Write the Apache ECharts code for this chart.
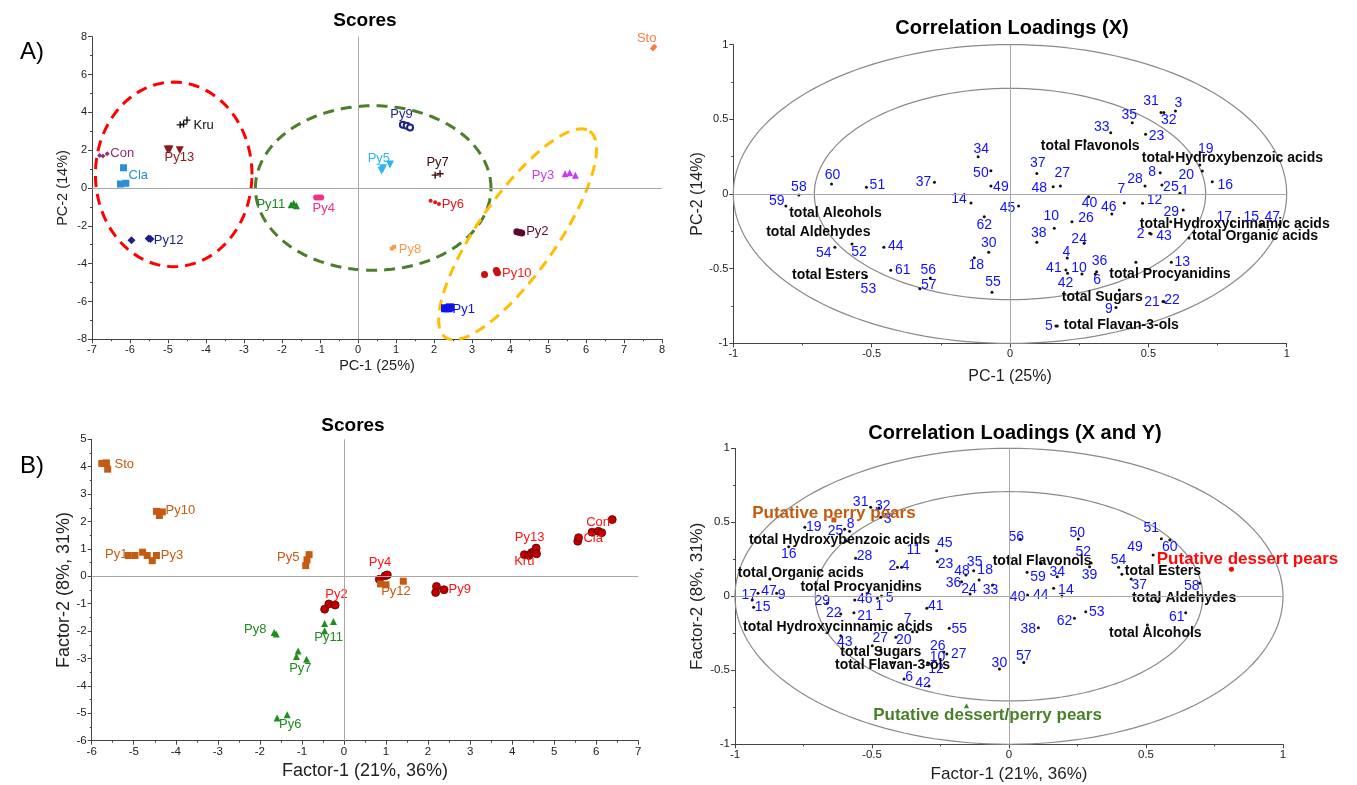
<!DOCTYPE html>
<html>
<head>
<meta charset="utf-8">
<script src="https://cdn.jsdelivr.net/npm/echarts@6/dist/echarts.min.js"></script>
<style>
  html, body { margin: 0; padding: 0; background: #fff; }
  #main { width: 1357px; height: 785px; }
</style>
</head>
<body>
<div id="main"></div>
<script>
// ---- A) PCA scores (3 replicates per sample) ----
const scoresA_names = ['Con','Cla','Kru','Py13','Py12','Py11','Py4','Sto','Py9','Py5','Py7','Py3','Py6','Py2','Py8','Py10','Py1'];
const scoresA_x = [
  [-6.8,-6.71,-6.6], [-6.17,-6.25,-6.11], [-4.68,-4.59,-4.5], [-5.01,-4.96,-4.69],
  [-5.96,-5.51,-5.46], [-1.76,-1.69,-1.62], [-1.1,-1.03,-0.97], [7.76,7.8],
  [1.18,1.28,1.37], [0.62,0.66,0.84], [2.03,2.16], [5.45,5.57,5.72],
  [1.91,2.03,2.13], [4.18,4.25,4.31], [0.89,0.95], [3.33,3.64,3.67], [2.29,2.38,2.42]
];
const scoresA_y = [
  [1.72,1.69,1.81], [1.07,0.21,0.25], [3.34,3.38,3.59], [2.04,2.04,2.0],
  [-2.76,-2.67,-2.7], [-0.89,-0.8,-0.94], [-0.5,-0.5,-0.5], [7.38,7.47],
  [3.34,3.29,3.2], [0.92,1.05,1.24], [0.68,0.75], [0.75,0.8,0.68],
  [-0.68,-0.76,-0.84], [-2.31,-2.35,-2.38], [-3.2,-3.11], [-4.57,-4.36,-4.48], [-6.36,-6.36,-6.31]
];

// ---- A) correlation loadings (X) ----
const loadA_names = ['3','31','32','35','33','23','total Flavonols','19','20','total Hydroxybenzoic acids',
  '8','28','25','1','16','7','12','46','40','29','total Hydroxycinnamic acids','total Organic acids',
  '17','15','47','2','43','10','26','38','24','4','41','10','42','36','6','total Procyanidins','13',
  'total Sugars','21','22','9','5','total Flavan-3-ols','37','27','48','45','34','50','49','14','62',
  '30','18','55','37','51','60','58','59','total Alcohols','total Aldehydes','total Esters','54','52',
  '44','61','56','57','53'];
const loadA_x = [0.598,0.546,0.556,0.442,0.364,0.49,0.272,0.686,0.695,0.587,
  0.543,0.488,0.549,0.614,0.731,0.413,0.479,0.368,0.284,0.626,0.581,0.647,
  0.8,0.908,0.973,0.505,0.51,0.16,0.224,0.097,0.268,0.207,0.202,0.26,0.208,0.313,0.308,0.455,0.583,
  0.395,0.553,0.557,0.383,0.166,0.171,0.097,0.182,0.156,0.031,-0.115,-0.069,-0.069,-0.141,-0.093,
  -0.077,-0.129,-0.065,-0.273,-0.519,-0.645,-0.763,-0.81,-0.609,-0.7,-0.661,-0.633,-0.571,
  -0.456,-0.431,-0.288,-0.326,-0.519];
const loadA_y = [0.555,0.546,0.546,0.477,0.41,0.40,0.355,0.194,0.154,0.247,
  0.142,0.054,0.06,0.005,0.082,-0.06,-0.062,-0.134,-0.018,-0.107,-0.185,-0.294,
  -0.207,-0.207,-0.207,-0.263,-0.268,-0.23,-0.185,-0.323,-0.33,-0.428,-0.508,-0.535,-0.53,-0.52,-0.535,-0.457,-0.457,
  -0.642,-0.72,-0.722,-0.76,-0.883,-0.883,0.138,0.054,0.049,-0.08,0.25,0.156,0.054,-0.06,-0.152,
  -0.39,-0.426,-0.658,0.078,0.045,0.067,-0.007,-0.08,-0.114,-0.275,-0.502,-0.357,-0.335,
  -0.357,-0.511,-0.5625,-0.634,-0.554];

// ---- B) PLS scores ----
const scoresB_names = ['Sto','Py10','Py1','Py3','Py5','Py2','Py8','Py11','Py7','Py6','Py4','Py12','Py9','Kru','Py13','Cla','Con'];
const scoresB_group = ['perry','perry','perry','perry','perry','dessert','both','both','both','both','dessert','perry','dessert','dessert','dessert','dessert','dessert'];
const scoresB_x = [
  [-5.76,-5.65,-5.62], [-4.46,-4.39,-4.32], [-5.13,-4.97,-4.79], [-4.68,-4.56,-4.46],
  [-0.91,-0.88,-0.83], [-0.46,-0.36,-0.21], [-1.66,-1.61], [-0.46,-0.46,-0.25],
  [-1.09,-1.13,-0.89], [-1.59,-1.35], [0.84,0.98,1.03], [0.87,1.0,1.41],
  [2.2,2.18,2.38], [4.29,4.4,4.46], [4.52,4.57,4.58], [5.56,5.58], [5.9,6.05,6.13,6.38]
];
const scoresB_y = [
  [4.12,4.14,3.91], [2.37,2.22,2.35], [0.76,0.76,0.88], [0.76,0.57,0.76],
  [0.39,0.6,0.79], [-1.2,-1.01,-1.05], [-2.05,-2.11], [-1.72,-1.99,-1.65],
  [-2.73,-2.93,-3.03], [-5.17,-5.05], [-0.11,0.02,0.05], [-0.28,-0.31,-0.18],
  [-0.37,-0.59,-0.49], [0.79,0.76,0.86], [0.9,1.03,0.82], [1.28,1.41], [1.61,1.64,1.59,2.07]
];

// ---- B) correlation loadings (X and Y) ----
const loadB_names = ['31','32','3','Putative perry pears','19','25','8','16','total Hydroxybenzoic acids',
  '45','11','2','4','28','23','35','48','18','36','24','33','total Organic acids','total Procyanidins',
  '17','47','9','15','29','46','1','5','41','22','21','7','total Hydroxycinnamic acids','55','43','27',
  '20','26','27','10','12','total Sugars','total Flavan-3-ols','6','42','30','Putative dessert/perry pears',
  '56','50','52','total Flavonols','59','34','39','40','44','14','54','49','51','60','total Esters','37',
  '58','Putative dessert pears','total Aldehydes','61','total Alcohols','62','53','38','57'];
const loadB_x = [-0.505,-0.475,-0.468,-0.639,-0.745,-0.60,-0.582,-0.804,-0.593,
  -0.264,-0.34,-0.407,-0.392,-0.56,-0.261,-0.129,-0.157,-0.109,-0.173,-0.142,-0.06,-0.873,-0.383,
  -0.937,-0.916,-0.848,-0.932,-0.663,-0.563,-0.48,-0.465,-0.3,-0.614,-0.566,-0.352,-0.336,-0.218,-0.614,-0.499,
  -0.413,-0.238,-0.227,-0.297,-0.292,-0.468,-0.425,-0.383,-0.292,-0.035,-0.155,
  0.041,0.253,0.3,0.117,0.066,0.176,0.294,0.068,0.163,0.193,0.4,0.526,0.556,0.587,0.412,0.446,
  0.696,0.812,0.544,0.645,0.505,0.239,0.28,0.107,0.054];
const loadB_y = [0.601,0.597,0.534,0.516,0.466,0.453,0.44,0.335,0.373,
  0.308,0.36,0.196,0.196,0.257,0.234,0.173,0.144,0.11,0.099,0.016,0.076,0.117,0.07,
  -0.025,0.02,0.02,-0.074,-0.047,-0.025,-0.014,0.002,-0.081,-0.12,-0.111,-0.239,-0.239,-0.216,-0.266,-0.334,
  -0.277,-0.376,-0.39,-0.449,-0.453,-0.363,-0.448,-0.559,-0.606,-0.491,-0.739,
  0.385,0.387,0.225,0.225,0.162,0.132,0.2,0.009,0.054,0.002,0.196,0.279,0.389,0.38,0.149,0.117,
  0.088,0.182,-0.036,-0.111,-0.194,-0.149,-0.104,-0.212,-0.448];

// label placement (pixel offsets from the point), kept apart from the values
const scoresA_labelOff = [[19,-2],[15,-3],[20,2],[7,8],[25,1],[-23,0],[5,11],[-7,-9],[-5,-12],[-6,-9],
  [0,-12],[-27,1],[18,2],[18,-1],[17,2],[24,1],[16,1]];
const scoresB_labelOff = [[19,-1],[21,-2],[-19,0],[20,-2],[-19,-3],[7,-12],[-20,-4],[1,12],[0,13],[8,8],
  [-4,-14],[6,8],[21,0],[-4,7],[-6,-14],[15,-1],[-3,-7]];
const loadA_labelOff = [[3,-8],[-10,-11],[5,8],[-3,-8],[-9,-6],[11,2],[5,5],[6,-16],[-16,4],[60,1],
  [-8,-1],[-10,-7],[9,2],[5,-2],[13,3],[-3,-14],[12,-3],[-3,-7],[1,6],[-12,2],[64,3],[66,-2],
  [-7,-8],[-10,-8],[-7,-8],[-9,1],[13,2],[-3,-12],[14,-3],[2,-9],[-5,-4],[-1,-6],[-12,-2],[-3,-6],[-2,10],[3,-11],[2,6],[34,12],[11,0],
  [-17,7],[-11,1],[8,-2],[-7,2],[-7,0],[64,-1],[1,-10],[2,-13],[-14,1],[-11,2],[3,-8],[-10,2],[10,1],[-12,-4],[0,8],
  [0,-9],[2,7],[1,-10],[-11,0],[11,-2],[1,-9],[0,-8],[-9,-5],[-6,2],[2,-3],[3,6],[-11,6],[7,8],
  [12,-1],[12,0],[-2,-8],[9,-4],[2,12]];
const loadB_labelOff = [[-10,-5],[4,-2],[7,2],[0,-7],[9,0],[-9,2],[1,-7],[0,7],[-7,-1],
  [8,-8],[-2,7],[-5,-1],[4,-1],[9,-2],[8,2],[1,-9],[-4,-4],[6,-10],[-8,1],[-1,-5],[-2,5],[31,-6],[-43,1],
  [-3,-5],[11,-2],[5,2],[9,0],[-5,-2],[10,-1],[2,8],[8,2],[9,-2],[-7,-1],[11,3],[-5,-13],[-79,-5],[10,1],[4,6],[8,-8],
  [8,3],[-6,-6],[12,0],[10,-6],[7,6],[0,2],[0,3],[5,-2],[-6,-3],[0,-6],[21,10],
  [-4,-2],[-1,-6],[-8,-11],[1,-2],[11,5],[0,-5],[0,8],[-10,2],[-13,7],[4,-6],[0,-7],[-18,-8],[-10,-11],[0,7],[41,-3],[8,6],
  [-8,3],[16,-10],[26,-3],[-9,4],[8,8],[-10,3],[11,0],[-10,1],[0,-6]];

// dashed group outlines on the A scores plot: centre and two conjugate half-axes, in data units
const ellipseA_center = [[-4.85,0.72],[0.4,0],[4.2,-2.45]];
const ellipseA_u = [[2.06,0],[3.1,0],[1.9,5.45]];
const ellipseA_v = [[0,4.88],[0,4.35],[0.84,-1.18]];

const FONT = 'Liberation Sans, Arial, sans-serif';
const chart = echarts.init(document.getElementById('main'));

const plus = 'path://M4,0H6V4H10V6H6V10H4V6H0V4H4Z';
const triDown = 'path://M0,0L10,0L5,9Z';
const styleA = {
  Con:['#8e2f73','diamond',5], Cla:['#2a8fd4','rect',7], Kru:['#111111',plus,7], Py13:['#8b1a1a',triDown,8],
  Py12:['#1f1f8a','diamond',8], Py11:['#1c8a22','triangle',7], Py4:['#f0308a','circle',6], Sto:['#fa7a45','diamond',6],
  Py9:['#1f1f8a','emptyCircle',6], Py5:['#29b6f2',triDown,8], Py7:['#3d0d0d',plus,7], Py3:['#c83cf0','triangle',7],
  Py6:['#e01818','circle',4], Py2:['#5c0b2c','circle',7], Py8:['#fb9b4a','rect',4], Py10:['#c81010','circle',7],
  Py1:['#1010f0','rect',8]
};
const labelColA = { Py10:'#ff1a1a', Py6:'#e01818' };
const groupB = {
  perry:{ color:'#c55a11', label:'#c55a11', symbol:'rect', size:7 },
  dessert:{ color:'#c00000', label:'#ff1414', symbol:'circle', size:8 },
  both:{ color:'#1e8e1e', label:'#228b22', symbol:'triangle', size:7 }
};

function xAxisCfg(gi, min, max, interval, name, nameGap, nameSize, labSize) {
  return {
    gridIndex: gi, type: 'value', min: min, max: max, interval: interval,
    name: name, nameLocation: 'middle', nameGap: nameGap,
    nameTextStyle: { fontSize: nameSize, color: '#222', fontFamily: FONT },
    axisLine: { onZero: false, lineStyle: { color: '#444', width: 1 } },
    axisTick: { show: true, length: 4, lineStyle: { color: '#444' } },
    minorTick: { show: true, splitNumber: 2, length: 2, lineStyle: { color: '#444' } },
    axisLabel: { fontSize: labSize, color: '#222', margin: 5, fontFamily: FONT },
    splitLine: { show: false }
  };
}
function yAxisCfg(gi, min, max, interval, name, nameGap, nameSize, labSize) {
  const a = xAxisCfg(gi, min, max, interval, name, nameGap, nameSize, labSize);
  a.position = 'left';
  return a;
}
const zeroLines = {
  silent: true, symbol: ['none','none'], animation: false,
  lineStyle: { color: '#a8a8a8', width: 1, type: 'solid' }, label: { show: false },
  data: [{ xAxis: 0 }, { yAxis: 0 }]
};

function mean(a) { return a.reduce((s, v) => s + v, 0) / a.length; }

const series = [];

// ellipses on A scores
series.push({
  type: 'custom', xAxisIndex: 0, yAxisIndex: 0, silent: true, clip: false, z: 1,
  data: ellipseA_center.map(c => c.slice()),
  renderItem: function (params, api) {
    const i = params.dataIndex;
    const c = ellipseA_center[i], u = ellipseA_u[i], v = ellipseA_v[i];
    const cols = ['#ff0000', '#4e7d2b', '#ffbe00'];
    const pts = [];
    for (let k = 0; k <= 120; k++) {
      const t = k / 120 * Math.PI * 2;
      pts.push(api.coord([c[0] + Math.cos(t) * u[0] + Math.sin(t) * v[0],
                          c[1] + Math.cos(t) * u[1] + Math.sin(t) * v[1]]));
    }
    return { type: 'polyline', shape: { points: pts },
      style: { stroke: cols[i], lineWidth: 3, lineDash: [11, 7], fill: null } };
  }
});

// correlation circles on both loadings plots (r = 1 and r = sqrt(0.5))
[1, 3].forEach(gi => {
  series.push({
    type: 'custom', xAxisIndex: gi, yAxisIndex: gi, silent: true, clip: false, z: 1,
    data: [[0, 0, 1], [0, 0, Math.SQRT1_2]],
    renderItem: function (params, api) {
      const r = api.value(2);
      const pts = [];
      for (let k = 0; k <= 160; k++) {
        const t = k / 160 * Math.PI * 2;
        pts.push(api.coord([r * Math.cos(t), r * Math.sin(t)]));
      }
      return { type: 'polyline', shape: { points: pts },
        style: { stroke: '#8a8a8a', lineWidth: 1.2, fill: null } };
    }
  });
});

// A scores points
scoresA_names.forEach((n, i) => {
  const st = styleA[n];
  const s = {
    type: 'scatter', xAxisIndex: 0, yAxisIndex: 0, z: 3, silent: true,
    symbol: st[1], symbolSize: st[2],
    itemStyle: st[1] === 'emptyCircle' ? { color: st[0], borderColor: st[0], borderWidth: 1.3, opacity: 1 } : { color: st[0], opacity: 1 },
    data: scoresA_x[i].map((x, k) => [x, scoresA_y[i][k]])
  };
  if (i === 0) s.markLine = zeroLines;
  series.push(s);
});
series.push({
  type: 'scatter', xAxisIndex: 0, yAxisIndex: 0, z: 4, silent: true, symbolSize: 0,
  itemStyle: { opacity: 1 },
  data: scoresA_names.map((n, i) => ({
    name: n, value: [mean(scoresA_x[i]), mean(scoresA_y[i])],
    label: { offset: scoresA_labelOff[i], color: labelColA[n] || styleA[n][0] }
  })),
  label: { show: true, position: 'inside', formatter: '{b}', fontSize: 13, fontFamily: FONT, textBorderWidth: 0, opacity: 1 }
});

// B scores points
scoresB_names.forEach((n, i) => {
  const g = groupB[scoresB_group[i]];
  const s = {
    type: 'scatter', xAxisIndex: 2, yAxisIndex: 2, z: 3, silent: true,
    symbol: g.symbol, symbolSize: g.size,
    itemStyle: scoresB_group[i] === 'dessert'
      ? { color: g.color, borderColor: '#5a0000', borderWidth: 0.8, opacity: 1 }
      : { color: g.color, opacity: 1 },
    data: scoresB_x[i].map((x, k) => [x, scoresB_y[i][k]])
  };
  if (i === 0) s.markLine = zeroLines;
  series.push(s);
});
series.push({
  type: 'scatter', xAxisIndex: 2, yAxisIndex: 2, z: 4, silent: true, symbolSize: 0,
  itemStyle: { opacity: 1 },
  data: scoresB_names.map((n, i) => ({
    name: n, value: [mean(scoresB_x[i]), mean(scoresB_y[i])],
    label: { offset: scoresB_labelOff[i], color: groupB[scoresB_group[i]].label }
  })),
  label: { show: true, position: 'inside', formatter: '{b}', fontSize: 13, fontFamily: FONT, textBorderWidth: 0, opacity: 1 }
});

// loadings
function loadingItems(names, xs, ys, offs) {
  return names.map((n, i) => {
    let dot = '#111', lab = { offset: offs[i], color: '#1010ff', fontSize: 14, fontWeight: 'normal' };
    let sym = 'circle', size = 3;
    if (n.indexOf('total') === 0) {
      lab.color = '#0a0a0a'; lab.fontWeight = 'bold'; lab.fontSize = 14;
    } else if (n.indexOf('Putative') === 0) {
      lab.fontWeight = 'bold'; lab.fontSize = 17; size = 5;
      if (n === 'Putative perry pears') { dot = '#c55a11'; lab.color = '#c55a11'; sym = 'rect'; }
      else if (n === 'Putative dessert pears') { dot = '#ff0000'; lab.color = '#ff0a0a'; }
      else { dot = '#2f8a2f'; lab.color = '#4a7f2a'; sym = 'triangle'; }
    }
    return { name: n, value: [xs[i], ys[i]], symbol: sym, symbolSize: size,
      itemStyle: { color: dot, opacity: 1 }, label: lab };
  });
}
series.push({
  type: 'scatter', xAxisIndex: 1, yAxisIndex: 1, z: 3, silent: true,
  data: loadingItems(loadA_names, loadA_x, loadA_y, loadA_labelOff),
  label: { show: true, position: 'inside', formatter: '{b}', fontFamily: FONT, textBorderWidth: 0 },
  markLine: zeroLines
});
series.push({
  type: 'scatter', xAxisIndex: 3, yAxisIndex: 3, z: 3, silent: true,
  data: loadingItems(loadB_names, loadB_x, loadB_y, loadB_labelOff),
  label: { show: true, position: 'inside', formatter: '{b}', fontFamily: FONT, textBorderWidth: 0 },
  markLine: zeroLines
});

function txt(x, y, text, font) {
  return { type: 'text', x: x, y: y, silent: true,
    style: { text: text, font: font, fill: '#000', textAlign: 'center', textVerticalAlign: 'top', align: 'center', verticalAlign: 'top' } };
}

chart.setOption({
  animation: false,
  backgroundColor: '#fff',
  textStyle: { fontFamily: FONT },
  grid: [
    { left: 92, top: 36.7, width: 570, height: 302.6 },
    { left: 733.3, top: 44.6, width: 553.4, height: 298.8 },
    { left: 91.7, top: 439.3, width: 546.6, height: 301.4 },
    { left: 735, top: 448.3, width: 548, height: 296 }
  ],
  xAxis: [
    xAxisCfg(0, -7, 8, 1, 'PC-1 (25%)', 19, 14.5, 11),
    xAxisCfg(1, -1, 1, 0.5, 'PC-1 (25%)', 25, 16, 11),
    xAxisCfg(2, -6, 7, 1, 'Factor-1 (21%, 36%)', 21, 18, 11.5),
    xAxisCfg(3, -1, 1, 0.5, 'Factor-1 (21%, 36%)', 22, 17, 11.5)
  ],
  yAxis: [
    yAxisCfg(0, -8, 8, 2, 'PC-2 (14%)', 22, 14.5, 11),
    yAxisCfg(1, -1, 1, 0.5, 'PC-2 (14%)', 28, 16, 11),
    yAxisCfg(2, -6, 5, 1, 'Factor-2 (8%, 31%)', 17, 18, 11.5),
    yAxisCfg(3, -1, 1, 0.5, 'Factor-2 (8%, 31%)', 24, 17, 11.5)
  ],
  graphic: [
    txt(365, 11, 'Scores', 'bold 19px ' + FONT),
    txt(1012, 18, 'Correlation Loadings (X)', 'bold 20px ' + FONT),
    txt(353, 416, 'Scores', 'bold 19px ' + FONT),
    txt(1015, 423, 'Correlation Loadings (X and Y)', 'bold 20px ' + FONT),
    txt(32, 40, 'A)', '24px ' + FONT),
    txt(32, 454, 'B)', '24px ' + FONT)
  ],
  series: series
});
</script>
</body>
</html>
